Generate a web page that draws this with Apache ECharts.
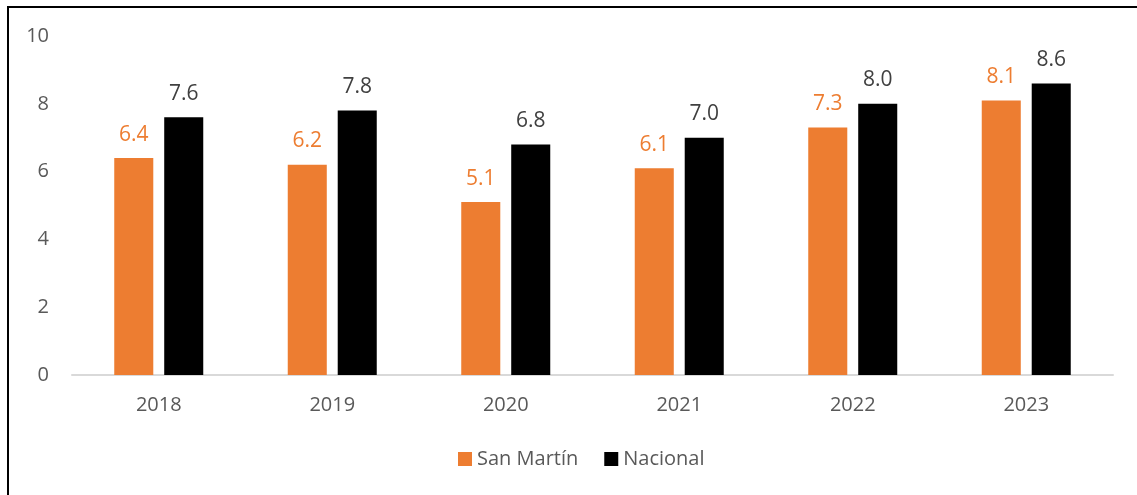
<!DOCTYPE html>
<html>
<head>
<meta charset="utf-8">
<script src="https://cdn.jsdelivr.net/npm/echarts@6/dist/echarts.min.js"></script>
<style>
html, body { margin: 0; padding: 0; background: #fff; overflow: hidden; }
#frame { position: absolute; left: 7px; top: 6px; width: 1150px; height: 510px; border: 2px solid #000; box-sizing: border-box; }
#main { position: absolute; left: 0; top: 0; width: 1137px; height: 495px; }
</style>
</head>
<body>
<div id="frame"></div>
<div id="main"></div>
<script>
var years = ['2018', '2019', '2020', '2021', '2022', '2023'];
var sanMartin = [6.4, 6.2, 5.1, 6.1, 7.3, 8.1];
var nacional = [7.6, 7.8, 6.8, 7.0, 8.0, 8.6];

var fontFam = '"Open Sans", "Noto Sans", sans-serif';

var dom = document.getElementById('main');
var myChart = echarts.init(dom);

myChart.setOption({
    animation: false,
    textStyle: { fontFamily: fontFam },
    grid: { left: 72, right: 24, top: 36, bottom: 120, containLabel: false },
    legend: {
        bottom: 21,
        left: 453,
        itemWidth: 14,
        itemHeight: 14,
        itemGap: 26,
        itemTextGap: 7,
        icon: 'rect',
        textStyle: { color: '#595959', fontSize: 20, fontFamily: fontFam },
        data: ['San Martín', 'Nacional']
    },
    xAxis: {
        type: 'category',
        data: years,
        axisLine: { lineStyle: { color: '#d9d9d9', width: 2 } },
        axisTick: { show: false },
        axisLabel: { color: '#595959', fontSize: 20, margin: 20, fontFamily: fontFam }
    },
    yAxis: {
        type: 'value',
        min: 0,
        max: 10,
        interval: 2,
        axisLine: { show: false },
        axisTick: { show: false },
        splitLine: { show: false },
        axisLabel: { color: '#595959', fontSize: 20, margin: 23, fontFamily: fontFam }
    },
    series: [
        {
            name: 'San Martín',
            type: 'bar',
            data: sanMartin,
            barWidth: '22.5%',
            barGap: '28%',
            itemStyle: { color: '#ED7D31' },
            label: {
                show: true,
                position: 'top',
                distance: 13,
                color: '#ED7D31',
                fontSize: 21,
                fontFamily: fontFam,
                formatter: function (p) { return p.value.toFixed(1); }
            }
        },
        {
            name: 'Nacional',
            type: 'bar',
            data: nacional,
            barWidth: '22.5%',
            itemStyle: { color: '#000000' },
            label: {
                show: true,
                position: 'top',
                distance: 13,
                color: '#404040',
                fontSize: 21,
                fontFamily: fontFam,
                formatter: function (p) { return p.value.toFixed(1); }
            }
        }
    ]
});
</script>
</body>
</html>
